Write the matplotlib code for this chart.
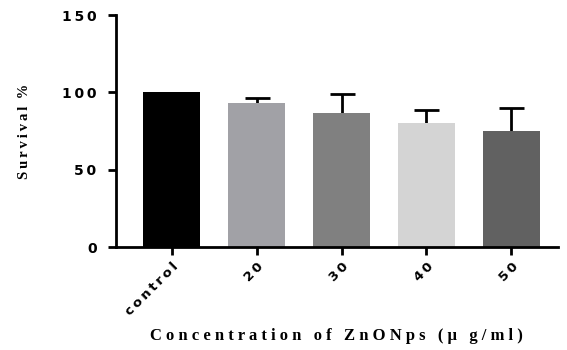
import matplotlib
matplotlib.use("Agg")
import matplotlib.pyplot as plt

groups = ["control", "20", "30", "40", "50"]
survival = [100, 93, 86.5, 80, 75]
sd = [0, 3.5, 12.5, 8.5, 15]
colors = ["#000000", "#a1a1a6", "#808080", "#d4d4d4", "#616161"]
yticks = [0, 50, 100, 150]


def spaced(s):
    return "\u2009".join(s)


fig = plt.figure(figsize=(5.67, 3.5), dpi=100)
ax = fig.add_axes([0.2046, 0.294, 0.779, 0.663])

x = list(range(len(groups)))
ax.bar(x, survival, width=0.667, color=colors, edgecolor="none", zorder=2)

# error bars only where there is a spread, upper side only
ex = [i for i in x if sd[i] > 0]
_, caps, _ = ax.errorbar(ex, [survival[i] for i in ex],
                         yerr=[[0] * len(ex), [sd[i] for i in ex]], fmt="none",
                         ecolor="black", elinewidth=2, capsize=9, capthick=2,
                         zorder=1)
caps[0].set_visible(False)

ax.set_xlim(-0.655, 4.545)
ax.set_ylim(0, 150)
ax.set_yticks(yticks)
ax.set_yticklabels([spaced(str(t)) for t in yticks], fontsize=10,
                   fontweight="bold", family="DejaVu Sans")
ax.set_xticks(x)
ax.set_xticklabels([spaced(g) for g in groups], rotation=45, ha="right",
                   rotation_mode="anchor", fontsize=9.5, fontweight="bold",
                   family="DejaVu Sans")

for side in ["top", "right"]:
    ax.spines[side].set_visible(False)
for side in ["left", "bottom"]:
    ax.spines[side].set_linewidth(2)
ax.tick_params(width=2, length=6, direction="out")
ax.tick_params(axis="y", pad=8)

ax.set_ylabel(spaced("Survival") + "  %", family="Liberation Serif",
              fontweight="bold", fontsize=10.5, labelpad=22)
ax.set_xlabel("C o n c e n t r a t i o n   o f   Z n O N p s   ( \u00b5   g / m l )",
              family="Liberation Serif", fontweight="bold", fontsize=12,
              labelpad=7)

fig.savefig("out.png", dpi=100)
